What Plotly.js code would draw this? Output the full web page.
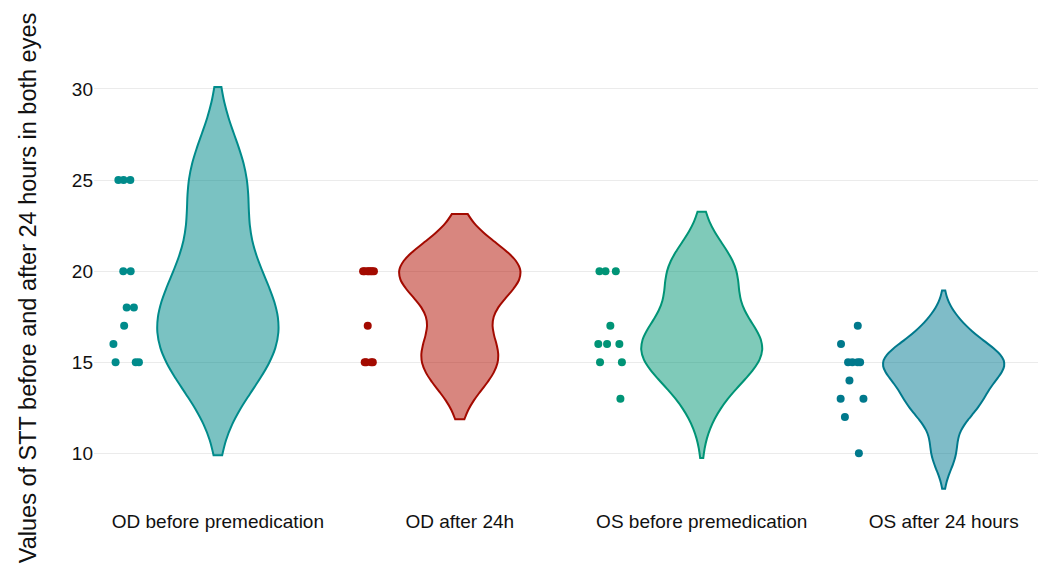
<!DOCTYPE html>
<html>
<head>
<meta charset="utf-8">
<script src="https://cdn.plot.ly/plotly-3.0.1.min.js"></script>
<style>html,body{margin:0;padding:0;background:#fff;}#chart{width:1043px;height:564px;}</style>
</head>
<body>
<div id="chart"></div>
<script>
// Categories (x tick labels)
const categories = ["OD before premedication", "OD after 24h", "OS before premedication", "OS after 24 hours"];
// STT values per group
const odBefore = [25, 25, 25, 20, 20, 18, 18, 17, 16, 15, 15, 15];
const odAfter = [20, 20, 20, 20, 20, 20, 20, 17, 15, 15, 15, 15];
const osBefore = [20, 20, 20, 17, 16, 16, 16, 15, 15, 13];
const osAfter = [17, 16, 15, 15, 15, 15, 14, 13, 13, 12, 10];
const yTicks = [10, 15, 20, 25, 30];

const groups = [odBefore, odAfter, osBefore, osAfter];
const lineColors = ["#008B8B", "#A30A00", "#009476", "#00798C"];
const fillColors = ["rgba(0,139,139,0.52)", "rgba(178,14,0,0.5)", "rgba(0,150,115,0.5)", "rgba(0,121,145,0.5)"];

const traces = groups.map((vals, i) => ({
  type: "violin",
  x: vals.map(() => categories[i]),
  y: vals,
  name: categories[i],
  width: 0.5,
  points: "all",
  pointpos: -1.5,
  jitter: 0.3,
  marker: {color: lineColors[i], size: 8, opacity: 1},
  line: {color: lineColors[i], width: 2},
  fillcolor: fillColors[i],
  box: {visible: false},
  meanline: {visible: false},
  showlegend: false,
  hoverinfo: "skip"
}));

const layout = {
  width: 1043,
  height: 564,
  margin: {l: 94, r: 5, t: 68, b: 56},
  paper_bgcolor: "#ffffff",
  plot_bgcolor: "#ffffff",
  font: {family: "Liberation Sans, Arial, sans-serif", size: 19, color: "#111111"},
  showlegend: false,
  xaxis: {
    type: "category",
    range: [-0.512, 3.39],
    showgrid: false,
    zeroline: false,
    showline: false,
    ticks: "",
    tickfont: {size: 19, color: "#111111"}
  },
  yaxis: {
    range: [7.0, 31.15],
    tickvals: yTicks,
    ticktext: yTicks.map(String),
    showgrid: true,
    gridcolor: "#ebebeb",
    gridwidth: 1,
    zeroline: false,
    showline: false,
    ticks: "",
    tickfont: {size: 19, color: "#111111"},
    title: {text: "Values of STT before and after 24 hours in both eyes", font: {size: 23.5, color: "#111111"}, standoff: 28}
  }
};

Plotly.newPlot("chart", traces, layout, {displayModeBar: false, staticPlot: true});
</script>
</body>
</html>
